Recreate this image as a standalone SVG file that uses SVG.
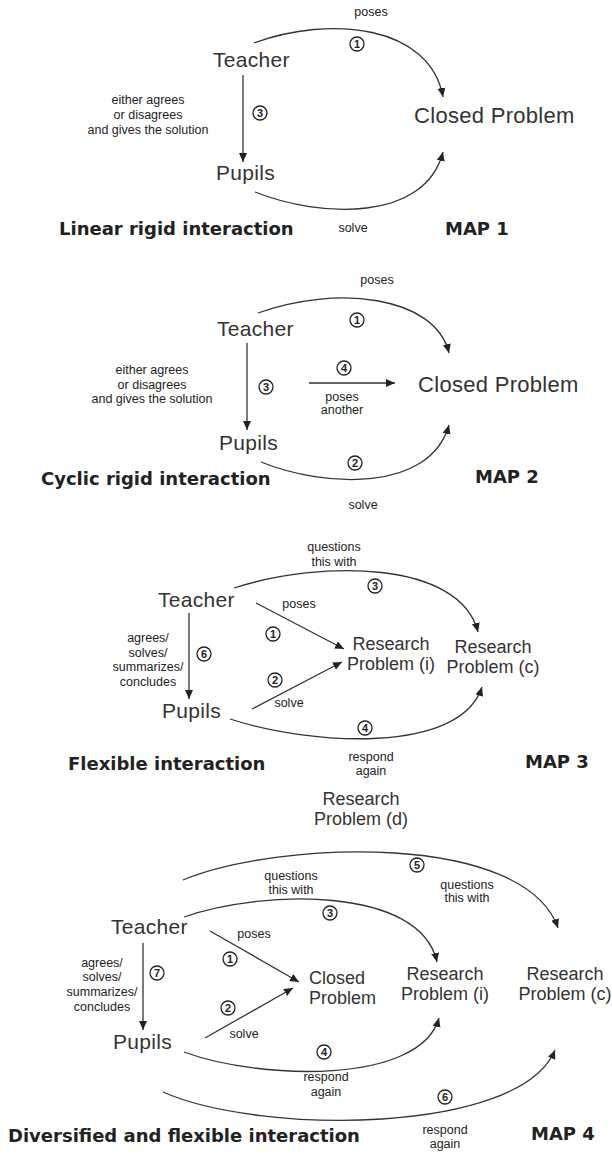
<svg xmlns="http://www.w3.org/2000/svg" width="612" height="1154" viewBox="0 0 612 1154">
<defs>
<marker id="ah" markerUnits="userSpaceOnUse" markerWidth="10" markerHeight="9" refX="9" refY="4" orient="auto">
<path d="M0,0 L9,4 L0,8 z" fill="#222"/>
</marker>
<style>
.big{font-family:"Liberation Sans",Arial,sans-serif;font-size:21px;fill:#333;letter-spacing:0.3px}
.cp{font-family:"Liberation Sans",Arial,sans-serif;font-size:22px;fill:#333;letter-spacing:0.3px}
.mid{font-family:"Liberation Sans",Arial,sans-serif;font-size:18px;fill:#333;text-anchor:middle}
.mids{font-family:"Liberation Sans",Arial,sans-serif;font-size:18px;fill:#333}
.sm{font-family:"Liberation Sans",Arial,sans-serif;font-size:12.5px;fill:#222;text-anchor:middle}
.ttl{font-family:"DejaVu Sans",Verdana,sans-serif;font-weight:bold;font-size:18px;fill:#222}
.num{font-family:"Liberation Sans",Arial,sans-serif;font-weight:bold;font-size:11px;fill:#222;text-anchor:middle}
.ring{fill:#fff;stroke:#222;stroke-width:1.3}
.ln{fill:none;stroke:#333;stroke-width:1.3;marker-end:url(#ah)}
</style>
</defs>
<rect width="612" height="1154" fill="#fff"/>

<!-- MAP 1 -->
<g id="connectors-map1">
<path class="ln" d="M254,43 C330,15 430,25 443,97"/>
<path class="ln" d="M255,192 C320,218 425,222 443,152"/>
<path class="ln" d="M243,75 L243,162"/>
</g>
<g id="m1-teacher"><text class="big" x="213" y="67">Teacher</text></g>
<g id="m1-pupils"><text class="big" x="216" y="180">Pupils</text></g>
<g id="m1-closed"><text class="cp" x="414" y="123">Closed Problem</text></g>
<g id="m1-labels">
<text class="sm" x="371" y="16">poses</text>
<circle class="ring" cx="357" cy="44" r="7"/><text class="num" x="357" y="48">1</text>
<circle class="ring" cx="260" cy="113" r="7"/><text class="num" x="260" y="117">3</text>
<text class="sm" x="148" y="104">either agrees</text>
<text class="sm" x="148" y="119">or disagrees</text>
<text class="sm" x="148" y="134">and gives the solution</text>
<text class="sm" x="353" y="232">solve</text>
</g>
<g id="m1-title">
<text class="ttl" x="59" y="235">Linear rigid interaction</text>
<text class="ttl" x="445" y="235">MAP 1</text>
</g>

<!-- MAP 2 -->
<g id="connectors-map2">
<path class="ln" d="M258,313 C335,285 435,295 449,353"/>
<path class="ln" d="M261,462 C325,488 430,492 449,425"/>
<path class="ln" d="M247,343 L247,430"/>
<path class="ln" d="M309,383 L395,383"/>
</g>
<g id="m2-teacher"><text class="big" x="217" y="336">Teacher</text></g>
<g id="m2-pupils"><text class="big" x="219" y="450">Pupils</text></g>
<g id="m2-closed"><text class="cp" x="418" y="392">Closed Problem</text></g>
<g id="m2-labels">
<text class="sm" x="377" y="284">poses</text>
<circle class="ring" cx="357" cy="320" r="7"/><text class="num" x="357" y="324">1</text>
<circle class="ring" cx="266" cy="387" r="7"/><text class="num" x="266" y="391">3</text>
<text class="sm" x="152" y="374">either agrees</text>
<text class="sm" x="152" y="389">or disagrees</text>
<text class="sm" x="152" y="403">and gives the solution</text>
<circle class="ring" cx="344" cy="368" r="7"/><text class="num" x="344" y="372">4</text>
<text class="sm" x="342" y="401">poses</text>
<text class="sm" x="342" y="414">another</text>
<circle class="ring" cx="355" cy="463" r="7"/><text class="num" x="355" y="467">2</text>
<text class="sm" x="363" y="509">solve</text>
</g>
<g id="m2-title">
<text class="ttl" x="41" y="485">Cyclic rigid interaction</text>
<text class="ttl" x="475" y="483">MAP 2</text>
</g>

<!-- MAP 3 -->
<g id="connectors-map3">
<path class="ln" d="M234,588 C320,560 460,560 478,632"/>
<path class="ln" d="M256,603 L344,649"/>
<path class="ln" d="M252,709 L342,662"/>
<path class="ln" d="M189,613 L189,699"/>
<path class="ln" d="M230,719 C310,745 460,755 482,687"/>
</g>
<g id="m3-teacher"><text class="big" x="158" y="607">Teacher</text></g>
<g id="m3-pupils"><text class="big" x="162" y="718">Pupils</text></g>
<g id="m3-rpi"><text class="mid" x="391" y="650">Research</text><text class="mid" x="391" y="670">Problem (i)</text></g>
<g id="m3-rpc"><text class="mid" x="493" y="653">Research</text><text class="mid" x="493" y="673">Problem (c)</text></g>
<g id="m3-labels">
<text class="sm" x="334" y="551">questions</text>
<text class="sm" x="334" y="566">this with</text>
<circle class="ring" cx="375" cy="586" r="7"/><text class="num" x="375" y="590">3</text>
<text class="sm" x="299" y="608">poses</text>
<circle class="ring" cx="273" cy="634" r="7"/><text class="num" x="273" y="638">1</text>
<circle class="ring" cx="204" cy="654" r="7"/><text class="num" x="204" y="658">6</text>
<text class="sm" x="148" y="642">agrees/</text>
<text class="sm" x="148" y="657">solves/</text>
<text class="sm" x="148" y="671">summarizes/</text>
<text class="sm" x="148" y="686">concludes</text>
<circle class="ring" cx="275" cy="680" r="7"/><text class="num" x="275" y="684">2</text>
<text class="sm" x="289" y="707">solve</text>
<circle class="ring" cx="365" cy="728" r="7"/><text class="num" x="365" y="732">4</text>
<text class="sm" x="371" y="761">respond</text>
<text class="sm" x="371" y="775">again</text>
</g>
<g id="m3-title">
<text class="ttl" x="68" y="770">Flexible interaction</text>
<text class="ttl" x="525" y="768">MAP 3</text>
</g>

<!-- MAP 4 -->
<g id="connectors-map4">
<path class="ln" d="M183,880 C280,840 525,832 558,928"/>
<path class="ln" d="M184,917 C260,890 420,885 437,962"/>
<path class="ln" d="M210,931 L299,982"/>
<path class="ln" d="M205,1038 L293,988"/>
<path class="ln" d="M143,943 L143,1030"/>
<path class="ln" d="M184,1052 C260,1080 420,1085 439,1018"/>
<path class="ln" d="M163,1092 C260,1135 520,1135 555,1050"/>
</g>
<g id="m4-rpd"><text class="mid" x="361" y="805">Research</text><text class="mid" x="361" y="825">Problem (d)</text></g>
<g id="m4-teacher"><text class="big" x="111" y="934">Teacher</text></g>
<g id="m4-pupils"><text class="big" x="113" y="1049">Pupils</text></g>
<g id="m4-closed"><text class="mids" x="309" y="984">Closed</text><text class="mids" x="309" y="1004">Problem</text></g>
<g id="m4-rpi"><text class="mid" x="445" y="980">Research</text><text class="mid" x="445" y="1000">Problem (i)</text></g>
<g id="m4-rpc"><text class="mid" x="565" y="980">Research</text><text class="mid" x="565" y="1000">Problem (c)</text></g>
<g id="m4-labels">
<circle class="ring" cx="417" cy="865" r="7"/><text class="num" x="417" y="869">5</text>
<text class="sm" x="467" y="889">questions</text>
<text class="sm" x="467" y="902">this with</text>
<text class="sm" x="291" y="880">questions</text>
<text class="sm" x="291" y="894">this with</text>
<circle class="ring" cx="330" cy="913" r="7"/><text class="num" x="330" y="917">3</text>
<text class="sm" x="254" y="938">poses</text>
<circle class="ring" cx="230" cy="959" r="7"/><text class="num" x="230" y="963">1</text>
<circle class="ring" cx="157" cy="973" r="7"/><text class="num" x="157" y="977">7</text>
<text class="sm" x="102" y="967">agrees/</text>
<text class="sm" x="102" y="981">solves/</text>
<text class="sm" x="102" y="996">summarizes/</text>
<text class="sm" x="102" y="1011">concludes</text>
<circle class="ring" cx="228" cy="1008" r="7"/><text class="num" x="228" y="1012">2</text>
<text class="sm" x="244" y="1038">solve</text>
<circle class="ring" cx="324" cy="1052" r="7"/><text class="num" x="324" y="1056">4</text>
<text class="sm" x="326" y="1081">respond</text>
<text class="sm" x="326" y="1096">again</text>
<circle class="ring" cx="445" cy="1097" r="7"/><text class="num" x="445" y="1101">6</text>
<text class="sm" x="445" y="1134">respond</text>
<text class="sm" x="445" y="1148">again</text>
</g>
<g id="m4-title">
<text class="ttl" x="8" y="1142">Diversified and flexible interaction</text>
<text class="ttl" x="531" y="1140">MAP 4</text>
</g>
</svg>
